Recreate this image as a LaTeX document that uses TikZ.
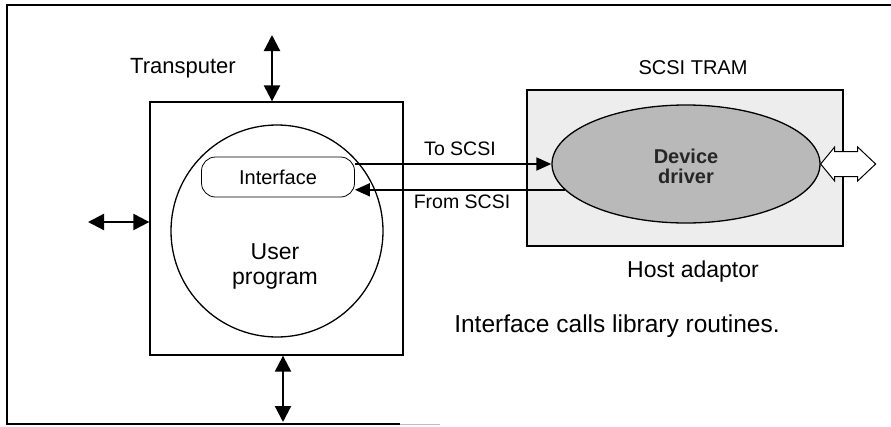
\documentclass[tikz,border=0pt]{standalone}
\usepackage{fontspec}
\setmainfont{Liberation Sans}
\usetikzlibrary{arrows.meta,shapes.geometric}
\begin{document}
\begin{tikzpicture}[x=1pt,y=-1pt,
  fs/.style={font=\fontsize{#1}{#1}\selectfont},
  lbl/.style={inner sep=0pt, align=center},
  boxline/.style={line width=1.3pt},
  bigarr/.style={line width=2.2pt, {Triangle[width=16pt,length=16pt]}-{Triangle[width=16pt,length=16pt]}},
  sigarr/.style={line width=1.8pt, -{Triangle[width=13pt,length=15pt]}},
]
\useasboundingbox (0,0) rectangle (891,426);
% outer frame
\draw[line width=1.2pt] (891,5) -- (7,5) -- (7,424) -- (400,424);
\draw[line width=0.8pt, gray!50] (400,424) -- (440,424);

% transputer
\node[boxline, draw, minimum width=253pt, minimum height=253pt, inner sep=0pt] (tp) at (276.5,228.5) {};
\node[boxline, draw, circle, minimum size=212pt, inner sep=0pt] (up) at (277,231) {};
\node[draw, line width=0.8pt, rounded corners=14pt, minimum width=153pt, minimum height=40pt, inner sep=0pt, fill=white, fs=20] (iface) at (278,177) {Interface};
\node[lbl, font=\fontsize{23}{25}\selectfont] (uptext) at (275,266) {User\\program};
\node[lbl, fs=22] (tplabel) at (183,68) {Transputer};

% SCSI TRAM
\node[boxline, draw, fill=gray!14, minimum width=316pt, minimum height=156pt, inner sep=0pt] (tram) at (685,168) {};
\node[boxline, draw, ellipse, fill=gray!55, minimum width=268pt, minimum height=118pt, inner sep=0pt] (dd) at (686,164) {};
\node[lbl, font=\fontsize{20}{20}\selectfont\bfseries, text=black!85] (ddtext) at (686,166) {Device\\driver};
\node[lbl, fs=20] (tramlabel) at (693,68) {SCSI TRAM};
\node[lbl, fs=23] (hostlabel) at (693,272) {Host adaptor};

% external arrows
\coordinate (ta) at (272,35);
\coordinate (la) at (88,222);
\coordinate (ba) at (283,422);
\draw[bigarr] (ta) -- (ta |- tp.north);
\draw[bigarr] (la) -- (la -| tp.west);
\draw[bigarr] (ba |- tp.south) -- (ba);

% signal arrows
\draw[sigarr] ([yshift=13pt]iface.east) -- (dd.west);
\draw[sigarr] (dd.192) -- (dd.192 -| iface.east);
\node[lbl, fs=19.5] (tolabel) at (460,149) {To SCSI};
\node[lbl, fs=19.5] (fromlabel) at (462,202) {From SCSI};

% hollow double arrow
\draw[line width=1pt, fill=white, line join=miter] (dd.east) -- ++(14,-17) -- ++(0,4.5) -- ++(23,0) -- ++(0,-4.5) -- ++(18,17) -- ++(-18,17) -- ++(0,-4.5) -- ++(-23,0) -- ++(0,4.5) -- cycle;

% caption
\node[lbl, fs=24.5] (caption) at (617,326) {Interface calls library routines.};
\end{tikzpicture}
\end{document}
